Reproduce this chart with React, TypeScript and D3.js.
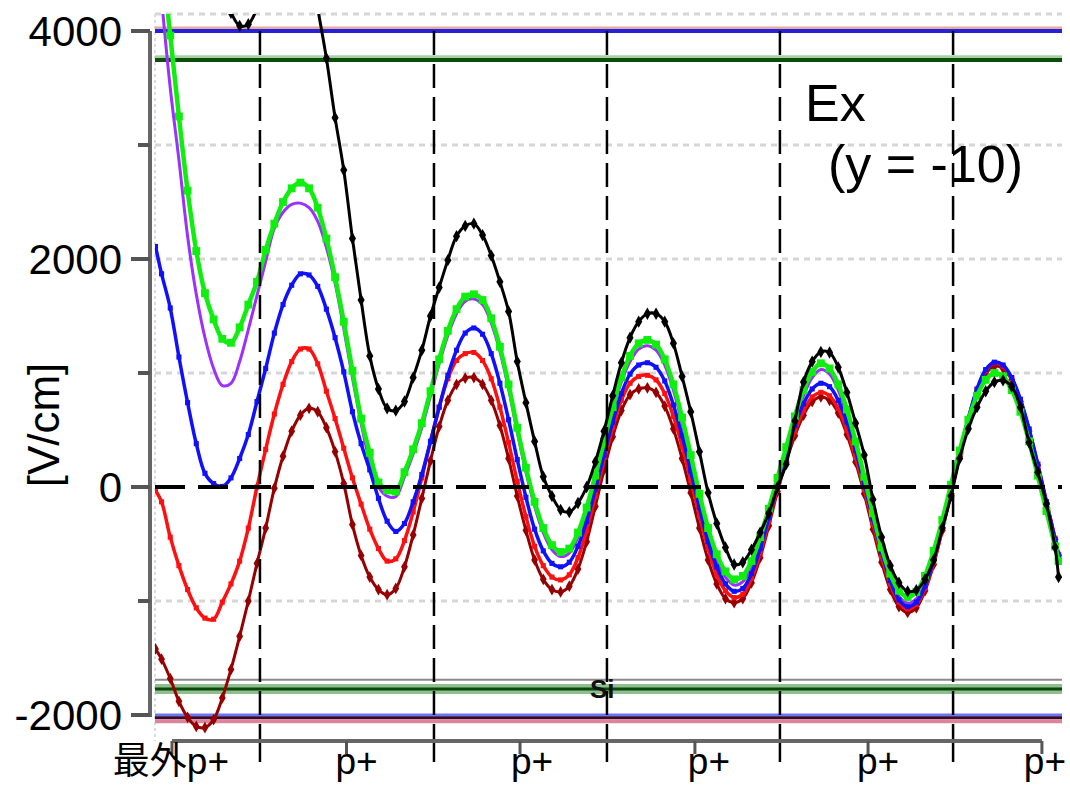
import React from 'react';
import * as d3 from 'd3';

// Sample positions along the structure (one unit = one p+ cell pitch)
const X_POS: number[] = [0.415, ...d3.range(0.45, 5.6001, 0.05).map((v) => +v.toFixed(2)), 5.62];

// Ex field [V/cm] for each case, sampled at X_POS
const PURPLE = [
  4900, 4280, 3500, 2870, 2200, 1690, 1310, 1040, 890, 910,
  1100, 1380, 1680, 1980, 2270, 2410, 2480, 2490, 2450, 2330,
  2100, 1790, 1390, 960, 560, 220, 0, -80, -85, 90,
  290, 520, 800, 1080, 1330, 1520, 1630, 1650, 1600, 1440,
  1190, 860, 480, 130, -170, -400, -550, -610, -580, -440,
  -220, 60, 360, 660, 920, 1100, 1210, 1240, 1200, 1070,
  850, 560, 230, -110, -410, -640, -790, -860, -830, -700,
  -490, -240, 40, 310, 580, 800, 960, 1030, 990, 850,
  630, 350, 40, -280, -580, -810, -960, -1020, -980, -840,
  -620, -340, -20, 310, 610, 860, 1030, 1095, 1065, 955,
  765, 505, 195, -135, -455, -600,
];
const MAROON = [
  -1420, -1510, -1680, -1880, -2020, -2100, -2110, -2040, -1850, -1600,
  -1310, -1000, -670, -360, -10, 270, 490, 630, 690, 660,
  520, 310, 30, -330, -600, -790, -900, -945, -890, -700,
  -420, -100, 230, 530, 760, 900, 955, 960, 900, 760,
  540, 250, -80, -380, -640, -810, -900, -920, -870, -720,
  -480, -170, 150, 440, 670, 810, 860, 870, 830, 710,
  510, 250, -50, -360, -640, -850, -980, -1015, -980, -840,
  -620, -340, -40, 220, 450, 630, 750, 790, 760, 650,
  460, 220, -60, -370, -660, -900, -1050, -1100, -1060, -910,
  -680, -380, -60, 270, 570, 820, 990, 1060, 1040, 940,
  750, 490, 190, -140, -460, -600,
];
const RED = [
  -30, -130, -440, -690, -900, -1060, -1150, -1160, -1010, -850,
  -650, -360, 0, 330, 640, 900, 1100, 1210, 1210, 1080,
  840, 600, 340, 80, -150, -370, -540, -650, -630, -470,
  -220, 80, 400, 700, 950, 1110, 1170, 1180, 1110, 950,
  700, 390, 50, -260, -520, -690, -790, -815, -770, -620,
  -380, -80, 230, 520, 760, 910, 970, 980, 940, 820,
  620, 360, 60, -250, -540, -770, -910, -970, -940, -800,
  -580, -300, -10, 250, 490, 670, 790, 830, 800, 690,
  500, 260, -20, -320, -610, -850, -1010, -1070, -1030, -890,
  -660, -370, -50, 280, 590, 850, 1020, 1090, 1060, 950,
  760, 500, 200, -130, -450, -590,
];
const BLUE = [
  2110, 1870, 1570, 1140, 740, 380, 120, 30, 5, 80,
  250, 460, 750, 1040, 1350, 1600, 1770, 1870, 1860, 1760,
  1560, 1310, 1010, 660, 380, 150, -100, -300, -390, -320,
  -130, 110, 400, 700, 980, 1200, 1350, 1395, 1340, 1170,
  910, 590, 240, -90, -370, -560, -670, -700, -660, -520,
  -300, -20, 280, 570, 820, 990, 1070, 1090, 1050, 930,
  720, 450, 140, -180, -480, -700, -850, -915, -890, -760,
  -540, -270, 20, 290, 540, 730, 860, 910, 880, 760,
  570, 320, 30, -280, -570, -820, -990, -1050, -1010, -870,
  -640, -350, -30, 300, 600, 860, 1030, 1095, 1070, 960,
  770, 510, 200, -130, -460, -600,
];
const GREEN = [
  5300, 4700, 3960, 3250, 2600, 2070, 1700, 1470, 1300, 1265,
  1400, 1600, 1800, 2080, 2310, 2500, 2620, 2670, 2620, 2450,
  2180, 1840, 1450, 1020, 600, 300, 40, -30, -40, 130,
  330, 560, 840, 1120, 1370, 1560, 1670, 1690, 1640, 1480,
  1230, 900, 520, 170, -130, -360, -510, -570, -540, -400,
  -180, 100, 400, 700, 960, 1150, 1260, 1290, 1250, 1120,
  900, 610, 280, -60, -360, -590, -740, -810, -780, -650,
  -440, -190, 80, 350, 620, 850, 1010, 1085, 1040, 900,
  680, 400, 90, -230, -530, -760, -910, -965, -920, -780,
  -560, -290, 20, 320, 590, 800, 940, 1000, 970, 850,
  660, 400, 100, -210, -520, -650,
];
const BLACK = [
  10000, 9000, 8000, 7000, 6200, 5500, 4950, 4550, 4300, 4160,
  4045, 4060, 4200, 4450, 4700, 4900, 5000, 4950, 4650, 4200,
  3760, 3240, 2780, 2180, 1640, 1150, 860, 690, 670, 750,
  960, 1200, 1500, 1750, 1990, 2200, 2290, 2310, 2210, 2030,
  1800, 1540, 1100, 740, 400, 90, -80, -200, -220, -140,
  0, 220, 490, 800, 1090, 1310, 1450, 1520, 1520, 1450,
  1260, 970, 660, 310, -50, -320, -530, -680, -660, -550,
  -400, -230, 0, 200, 580, 920, 1100, 1185, 1180, 1050,
  830, 560, 280, -110, -440, -690, -840, -915, -905, -810,
  -640, -360, -80, 250, 510, 700, 840, 920, 935, 880,
  700, 390, 130, -150, -530, -790,
];

// Region boundaries (dashed) and p+ cell centres on the x axis
const SEPARATORS = [1.017, 2.02, 3.017, 4.014, 5.012];
const P_TICKS = [0.51, 1.516, 2.516, 3.524, 4.522, 5.524];
const P_LABELS = ['最外p+', 'p+', 'p+', 'p+', 'p+', 'p+'];

// y axis
const Y_MAJOR = [-2000, 0, 2000, 4000];
const Y_MINOR = [-1000, 1000, 3000];
const Y_GRID = [-1000, 1000, 2000, 3000];

// Horizontal reference levels
const TOP_LEVELS = [4026, 4000, 3775, 3746];
const BOTTOM_LEVELS = [-1690, -1772, -1772, -2000, -2025, -2055];

const FONT = '"Liberation Sans", Arial, Helvetica, "Noto Sans CJK JP", sans-serif';

export default function App() {
  const W = 1070;
  const H = 785;
  const x = d3.scaleLinear().domain([0, 6]).range([83.5, 83.5 + 173.5 * 6]);
  const y = d3.scaleLinear().domain([-2000, 4000]).range([715, 31]);

  const plotLeft = 155;
  const plotRight = 1062;
  const plotTop = 14;
  const plotBottom = 745;
  const axisY = 741;

  const line = d3
    .line<number>()
    .x((_, i) => x(X_POS[i]))
    .y((v) => y(v))
    .curve(d3.curveCatmullRom.alpha(0.5));

  const series = [
    { data: PURPLE, color: '#9b30ff', width: 3, symbol: null as any, size: 0 },
    { data: MAROON, color: '#960000', width: 3, symbol: d3.symbolDiamond, size: 40 },
    { data: RED, color: '#ff1010', width: 3.5, symbol: d3.symbolSquare, size: 26 },
    { data: BLUE, color: '#1010ff', width: 3.5, symbol: d3.symbolSquare, size: 26 },
    { data: GREEN, color: '#10ee10', width: 4.5, symbol: d3.symbolSquare, size: 62 },
    { data: BLACK, color: '#000000', width: 3, symbol: d3.symbolDiamond, size: 44 },
  ];

  const topStyles = [
    { color: '#eaa8a0', width: 3 },
    { color: '#2222d8', width: 4 },
    { color: '#a8d0a8', width: 3 },
    { color: '#0b4d0b', width: 4 },
  ];
  const bottomStyles = [
    { color: '#8a8a8a', width: 2 },
    { color: '#8fbf8f', width: 10 },
    { color: '#0a480a', width: 3 },
    { color: '#6a78f0', width: 3 },
    { color: '#3a0a2a', width: 3 },
    { color: '#d9869a', width: 4 },
  ];
  const labelShift = [0, 10, 12, 14, 10, 3];

  return (
    <div style={{ position: 'absolute', left: 0, top: 0 }}>
      <svg width={W} height={H} style={{ display: 'block', background: '#fff' }} fontFamily={FONT}>
        <defs>
          <clipPath id="plot-clip">
            <rect x={plotLeft} y={plotTop} width={plotRight - plotLeft} height={plotBottom - plotTop} />
          </clipPath>
        </defs>

        {/* dotted grid */}
        {Y_GRID.map((v) => (
          <line key={'g' + v} x1={plotLeft} x2={plotRight} y1={y(v)} y2={y(v)} stroke="#d6d6d6" strokeWidth={3} strokeDasharray="6,5" />
        ))}
        <line x1={plotLeft} x2={plotRight} y1={plotTop} y2={plotTop} stroke="#d6d6d6" strokeWidth={3} strokeDasharray="6,5" />
        <line x1={plotLeft} x2={plotLeft} y1={plotTop} y2={axisY} stroke="#dcdcdc" strokeWidth={2} strokeDasharray="3,3" />

        {/* reference levels */}
        {TOP_LEVELS.map((v, i) => (
          <line key={'t' + i} x1={plotLeft} x2={plotRight} y1={y(v)} y2={y(v)} stroke={topStyles[i].color} strokeWidth={topStyles[i].width} />
        ))}
        {BOTTOM_LEVELS.map((v, i) => (
          <line key={'b' + i} x1={plotLeft} x2={plotRight} y1={y(v)} y2={y(v)} stroke={bottomStyles[i].color} strokeWidth={bottomStyles[i].width} />
        ))}
        <text x={590} y={698} fontSize={26} fontWeight="bold" fill="#111">Si</text>

        {/* curves */}
        <g clipPath="url(#plot-clip)">
          {series.map((s, si) => (
            <g key={'s' + si}>
              <path d={line(s.data) || ''} fill="none" stroke={s.color} strokeWidth={s.width} strokeLinejoin="round" />
              {s.symbol &&
                s.data.map((v, i) => (
                  <path
                    key={i}
                    d={d3.symbol().type(s.symbol).size(s.size)() || ''}
                    transform={`translate(${x(X_POS[i])},${y(v)})`}
                    fill={s.color}
                  />
                ))}
            </g>
          ))}
        </g>

        {/* zero line and region boundaries */}
        <line x1={plotLeft} x2={plotRight} y1={y(0)} y2={y(0)} stroke="#000" strokeWidth={4} strokeDasharray="30,13" />
        {SEPARATORS.map((u) => (
          <g key={'sep' + u}>
            <line x1={x(u)} x2={x(u)} y1={y(4000)} y2={axisY} stroke="#000" strokeWidth={2.5} strokeDasharray="24,9" />
            <line x1={x(u)} x2={x(u)} y1={axisY} y2={762} stroke="#000" strokeWidth={2.5} />
          </g>
        ))}

        {/* y axis */}
        <line x1={150} x2={150} y1={y(4000)} y2={y(-2000) + 2} stroke="#666" strokeWidth={4} />
        {Y_MAJOR.map((v) => (
          <g key={'ym' + v}>
            <line x1={131} x2={150} y1={y(v)} y2={y(v)} stroke="#555" strokeWidth={4} />
            <text x={122} y={y(v)} dy="0.36em" textAnchor="end" fontSize={42} fill="#000">
              {v}
            </text>
          </g>
        ))}
        {Y_MINOR.map((v) => (
          <line key={'yn' + v} x1={138} x2={150} y1={y(v)} y2={y(v)} stroke="#555" strokeWidth={4} />
        ))}
        <text transform={`translate(43,425) rotate(-90)`} textAnchor="middle" dy="0.36em" fontSize={44} fill="#000">
          [V/cm]
        </text>

        {/* x axis */}
        <line x1={x(P_TICKS[0])} x2={x(P_TICKS[P_TICKS.length - 1])} y1={axisY} y2={axisY} stroke="#666" strokeWidth={4} />
        {P_TICKS.map((u, i) => (
          <g key={'xt' + i}>
            <line x1={x(u)} x2={x(u)} y1={axisY} y2={754} stroke="#555" strokeWidth={3} />
            {i === 0 ? (
              <text x={229} y={774} textAnchor="end" fontSize={37} fill="#000">
                {P_LABELS[i]}
              </text>
            ) : (
              <text x={x(u) + labelShift[i]} y={774} textAnchor="middle" fontSize={37} fill="#000">
                {P_LABELS[i]}
              </text>
            )}
          </g>
        ))}

        {/* annotation */}
        <text x={805} y={121} fontSize={52} fill="#000">Ex</text>
        <text x={828} y={182} fontSize={52} fill="#000">(y = -10)</text>
      </svg>
    </div>
  );
}
